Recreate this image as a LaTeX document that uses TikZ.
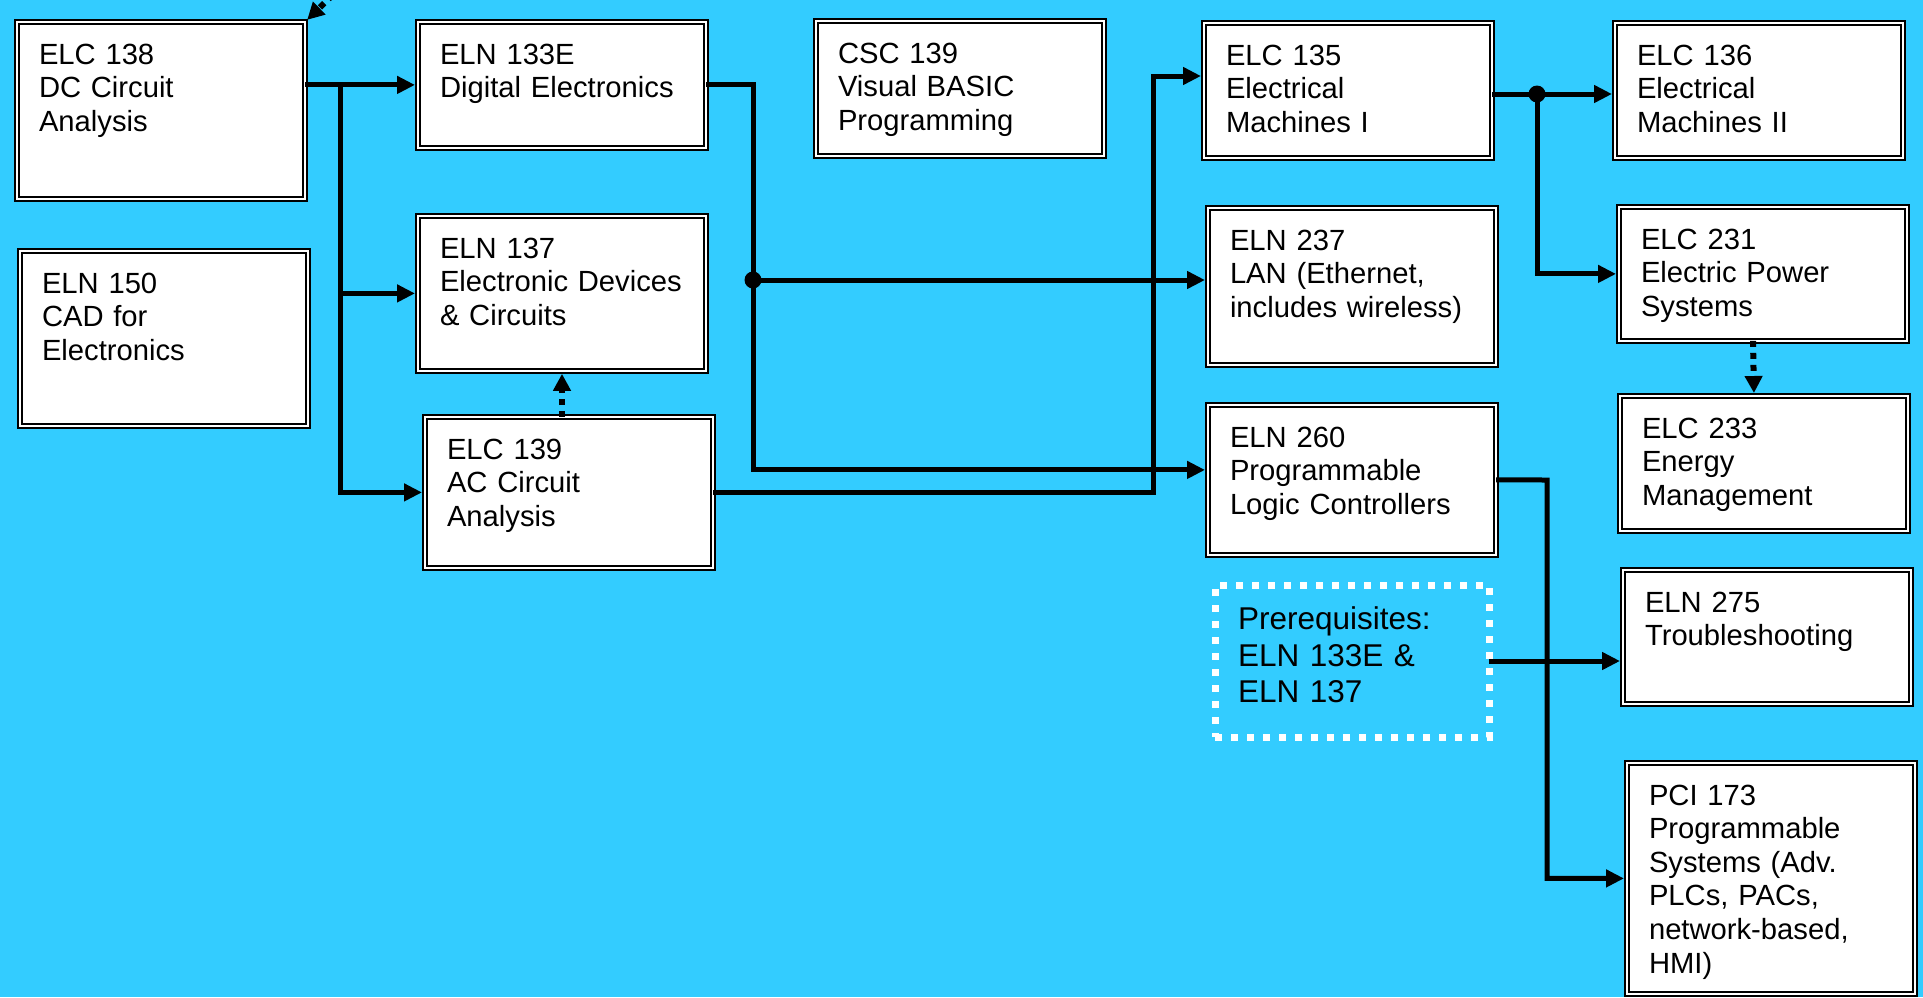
\documentclass[tikz,border=0pt]{standalone}
\usepackage{fontspec}
\setmainfont{Liberation Sans}
\usetikzlibrary{arrows.meta}
\definecolor{fundo}{RGB}{51,204,255}
\newcommand{\cfont}{\fontsize{29.2}{33.6}\selectfont}
\newcommand{\pfont}{\fontsize{31.5}{36.7}\selectfont}
\tikzset{
  disc/.style={draw=black, line width=2.2pt, double=white, double distance=1.8pt,
    fill=white, anchor=north west, outer sep=0pt, align=left, font=\cfont,
    text width=244pt, inner xsep=22pt, inner ysep=21pt, text height=21pt},
  pre/.style={draw=white, line width=7pt, dash pattern=on 7pt off 9pt,
    anchor=north west, outer sep=0pt, align=left, font=\pfont,
    text width=228pt, inner xsep=23pt, inner ysep=21.7pt, text height=22.6pt},
  linha/.style={line width=5pt},
  seta/.style={line width=5pt, -{Triangle[length=18pt,width=17pt]}, shorten >=3pt},
  pont/.style={line width=6pt, dash pattern=on 6pt off 6pt,
    -{Triangle[length=17pt,width=17pt]}, shorten >=3pt},
}
\begin{document}
\begin{tikzpicture}[x=1pt, y=-1pt]
  % fundo
  \fill[fundo] (0,0) rectangle (1923,997);
  \useasboundingbox (0,0) rectangle (1923,997);

  % disciplinas
  \node[disc, text depth=113.8pt] (elc138) at (17,22) {ELC 138\\DC Circuit\\Analysis};
  \node[disc, text depth=111.8pt] (eln150) at (20,251) {ELN 150\\CAD for\\Electronics};
  \node[disc, text depth=62.8pt] (eln133) at (418,22) {ELN 133E\\Digital Electronics};
  \node[disc, text depth=91.8pt] (eln137) at (418,216) {ELN 137\\Electronic Devices\\\& Circuits};
  \node[disc, text depth=87.8pt] (elc139) at (425,417) {ELC 139\\AC Circuit\\Analysis};
  \node[disc, text depth=71.8pt] (csc139) at (816,21) {CSC 139\\Visual BASIC\\Programming};
  \node[disc, text depth=71.8pt] (elc135) at (1204,23) {ELC 135\\Electrical\\Machines I};
  \node[disc, text depth=93.8pt] (eln237) at (1208,208) {ELN 237\\LAN (Ethernet,\\includes wireless)};
  \node[disc, text depth=86.8pt] (eln260) at (1208,405) {ELN 260\\Programmable\\Logic Controllers};
  \node[disc, text depth=71.8pt] (elc136) at (1615,23) {ELC 136\\Electrical\\Machines II};
  \node[disc, text depth=70.8pt] (elc231) at (1619,207) {ELC 231\\Electric Power\\Systems};
  \node[disc, text depth=71.8pt] (elc233) at (1620,396) {ELC 233\\Energy\\Management};
  \node[disc, text depth=70.8pt] (eln275) at (1623,570) {ELN 275\\Troubleshooting};
  \node[disc, text depth=167.8pt] (pci173) at (1627,763) {PCI 173\\Programmable\\Systems (Adv.\\PLCs, PACs,\\network-based,\\HMI)};
  \node[pre, text depth=86pt] (prereq) at (1215,585) {Prerequisites:\\ELN 133E \&\\ELN 137};

  % pontos de ligacao
  \coordinate (tronco) at (340,85);
  \coordinate (noA) at (753,280);
  \coordinate (sobe) at (1153,76);
  \coordinate (noB) at (1537,94);
  \coordinate (desce) at (1547,480);
  \coordinate (fora) at (350,-22);

  % ELC 138
  \draw[seta] (elc138.east |- eln133.west) -- (eln133.west);
  \draw[seta] (tronco) |- (eln137.west);
  \draw[seta] (tronco) |- (elc139.west);

  % ELN 133E
  \draw[linha] (eln133.east) -| (noA);
  \draw[seta] (noA) -- (noA -| eln237.west);
  \draw[seta] (noA) |- ([yshift=10pt]eln260.west);
  \fill (noA) circle (8.5pt);

  % ELC 139 e ELC 135
  \draw[seta] (elc139.east) -| (sobe) -- (sobe -| elc135.west);
  \draw[seta] (elc135.east |- noB) -- (noB -| elc136.west);
  \draw[seta] (noB) |- (elc231.west);
  \fill (noB) circle (8.5pt);

  % ELN 260 e pre-requisitos
  \draw[seta] (eln260.east) -- (desce) |- (pci173.west);
  \draw[seta] (prereq.east) -- (prereq.east -| eln275.west);

  % setas pontilhadas
  \draw[pont] (elc139.north -| eln137.south) -- (eln137.south);
  \draw[pont] ([xshift=-10pt]elc231.south) -- ([xshift=-10pt]elc233.north);
  \draw[pont] (fora) -- (elc138.north east);
\end{tikzpicture}
\end{document}
